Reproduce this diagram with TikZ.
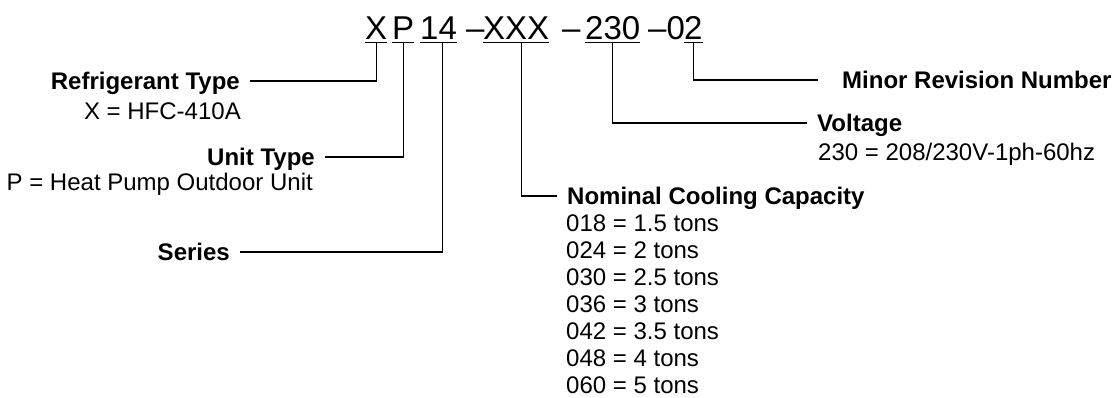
\documentclass[tikz,border=0pt]{standalone}
\usepackage{fontspec}
\setmainfont{Liberation Sans}
\usetikzlibrary{calc}

\begin{document}
\begin{tikzpicture}[
  x=1pt, y=-1pt,
  codepart/.style={font=\fontsize{33}{36}\selectfont,inner sep=0pt,text depth=3pt,anchor=base west},
  fieldname/.style={font=\fontsize{24}{27}\selectfont\bfseries,inner ysep=0pt,inner xsep=10pt,text height=17pt,text depth=0pt},
  fieldval/.style={font=\fontsize{24}{27}\selectfont,inner sep=0pt},
  leader/.style={line width=1.1pt},
  uline/.style={line width=1.3pt}
]
\useasboundingbox (0,0) rectangle (1114,397);

% model number
\node[codepart] (cX)    at (365,39) {X};
\node[codepart] (cP)    at (392,39) {P};
\node[codepart] (c14)   at (420,39) {14};
\node[codepart] (dashA) at (466,39) {--};
\node[codepart] (cXXX)  at (483,39) {XXX};
\node[codepart] (dashB) at (562,39) {--};
\node[codepart] (c230)  at (585,39) {230};
\node[codepart] (dashC) at (648,39) {--0};
\node[codepart] (c2)    at (684,39) {2};

\foreach \part in {cX,cP,c14,cXXX,c230,c2}
  \draw[uline] (\part.south west) -- (\part.south east);

% left side fields
\node[fieldname,anchor=east] (refrig) at (250,81) {Refrigerant Type};
\node[fieldval,anchor=base east] (refrigval) at (241,119) {X = HFC-410A};

\node[fieldname,anchor=east] (unit) at (325,157) {Unit Type};
\node[fieldval,anchor=base east] (unitval) at (313,190) {P = Heat Pump Outdoor Unit};

\node[fieldname,anchor=east] (series) at (240,252) {Series};

% right side fields
\node[fieldname,anchor=west,inner xsep=24pt] (minor) at (818,80) {Minor Revision Number};

\node[fieldname,anchor=west] (volt) at (807,123) {Voltage};
\node[fieldval,anchor=base west] (voltval) at (818,160) {230 = 208/230V-1ph-60hz};

\node[fieldname,anchor=west] (nominal) at (557,196) {Nominal Cooling Capacity};
\foreach \code/\tons [count=\k] in {018/1.5,024/2,030/2.5,036/3,042/3.5,048/4,060/5}
  \node[fieldval,anchor=base west] (cap\k) at (566,204+27*\k) {\code\ = \tons\ tons};

% leaders
\draw[leader] (cX.south) |- (refrig.east);
\draw[leader] (cP.south) |- (unit.east);
\draw[leader] ([xshift=4pt]c14.south) |- (series.east);
\draw[leader] ([xshift=5pt]cXXX.south) |- (nominal.west);
\draw[leader] (c230.south) |- (volt.west);
\draw[leader] (c2.south) |- (minor.west);

\end{tikzpicture}
\end{document}
